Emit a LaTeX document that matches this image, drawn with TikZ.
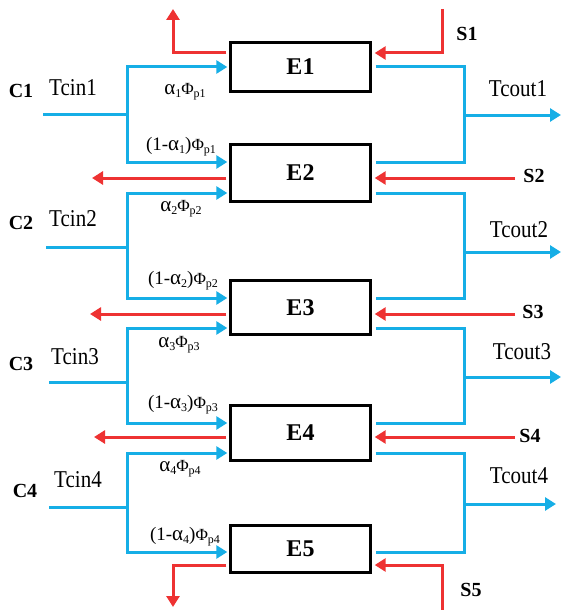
\documentclass[tikz,border=0pt]{standalone}
\usepackage{fontspec}
\setmainfont{Liberation Serif}
\usetikzlibrary{arrows.meta}
\definecolor{cb}{RGB}{22,174,230}
\definecolor{cr}{RGB}{238,50,50}
\newcommand\mysub[1]{\raisebox{-3pt}{\fontsize{12}{12}\selectfont #1}}
\newcommand\myal{{\fontsize{21}{21}\selectfont α}}
\newcommand\myphi[1]{{\fontsize{17}{17}\selectfont Φ}\mysub{#1}}
\newcommand\mytall[1]{\scalebox{1}[1.15]{#1}}
\begin{document}
\begin{tikzpicture}[x=1pt,y=-1pt,
  bl/.style={draw=cb,line width=3pt},
  rd/.style={draw=cr,line width=3pt},
  tip/.style={-{Triangle[length=11pt,width=13pt]}},
  ebox/.style={draw=black,line width=3pt,minimum width=139.4pt,inner sep=0pt,font=\fontsize{24}{24}\selectfont\bfseries},
  slab/.style={inner sep=0pt,font=\fontsize{20}{20}\selectfont\bfseries},
  clab/.style={inner sep=0pt,font=\fontsize{20}{20}\selectfont\bfseries},
  tlab/.style={inner sep=0pt,font=\fontsize{21}{21}\selectfont},
  flab/.style={inner sep=0pt,font=\fontsize{19}{19}\selectfont}]
\useasboundingbox (0,0) rectangle (563,610);

% boxes
\node[ebox,minimum height=49pt] (E1) at (300.5,67) {E1};
\node[ebox,minimum height=57pt] (E2) at (300.5,173) {E2};
\node[ebox,minimum height=54pt] (E3) at (300.5,307.5) {E3};
\node[ebox,minimum height=55pt] (E4) at (300.5,433) {E4};
\node[ebox,minimum height=47pt] (E5) at (300.5,549) {E5};

% left blue feeds
\coordinate (c1s) at (43,114); \coordinate (c1j) at (127,114);
\draw[bl] (c1s) -- (c1j);
\draw[bl,tip] (c1j) |- ([xshift=-2pt]E1.west);
\draw[bl,tip] (c1j) |- ([xshift=-2pt,yshift=11pt]E2.west);

\coordinate (c2s) at (46,247); \coordinate (c2j) at (127,247);
\draw[bl] (c2s) -- (c2j);
\draw[bl,tip] (c2j) |- ([xshift=-2pt,yshift=-20pt]E2.west);
\draw[bl,tip] (c2j) |- ([xshift=-2pt,yshift=9.5pt]E3.west);

\coordinate (c3s) at (49,382); \coordinate (c3j) at (127,382);
\draw[bl] (c3s) -- (c3j);
\draw[bl,tip] (c3j) |- ([xshift=-2pt,yshift=-20.5pt]E3.west);
\draw[bl,tip] (c3j) |- ([xshift=-2pt,yshift=10pt]E4.west);

\coordinate (c4s) at (49,507); \coordinate (c4j) at (127,507);
\draw[bl] (c4s) -- (c4j);
\draw[bl,tip] (c4j) |- ([xshift=-2pt,yshift=-20pt]E4.west);
\draw[bl,tip] (c4j) |- ([xshift=-2pt,yshift=-3pt]E5.west);

% right blue outputs
\coordinate (o1j) at (464,115); \coordinate (o1t) at (561,115);
\draw[bl] ([xshift=4pt]E1.east) -| (o1j) |- ([xshift=4pt,yshift=11pt]E2.east);
\draw[bl,tip] (o1j) -- (o1t);

\coordinate (o2j) at (464,252); \coordinate (o2t) at (561,252);
\draw[bl] ([xshift=4pt,yshift=-20pt]E2.east) -| (o2j) |- ([xshift=4pt,yshift=9.5pt]E3.east);
\draw[bl,tip] (o2j) -- (o2t);

\coordinate (o3j) at (464,377); \coordinate (o3t) at (561,377);
\draw[bl] ([xshift=4pt,yshift=-20.5pt]E3.east) -| (o3j) |- ([xshift=4pt,yshift=10pt]E4.east);
\draw[bl,tip] (o3j) -- (o3t);

\coordinate (o4j) at (464,504); \coordinate (o4t) at (556,504);
\draw[bl] ([xshift=4pt,yshift=-20pt]E4.east) -| (o4j) |- ([xshift=4pt,yshift=-3pt]E5.east);
\draw[bl,tip] (o4j) -- (o4t);

% red streams
\coordinate (u1) at (173,9);
\draw[rd,tip] ([xshift=-3pt,yshift=14pt]E1.west) -| (u1);
\coordinate (s1) at (442,9);
\draw[rd,tip] (s1) |- ([xshift=3pt,yshift=14pt]E1.east);

\coordinate (l2) at (92,178);
\draw[rd,tip] ([xshift=-3pt,yshift=-5pt]E2.west) -- (l2);
\coordinate (s2) at (515,178);
\draw[rd,tip] (s2) -- ([xshift=3pt,yshift=-5pt]E2.east);

\coordinate (l3) at (90,314);
\draw[rd,tip] ([xshift=-3pt,yshift=-6.5pt]E3.west) -- (l3);
\coordinate (s3) at (515,314);
\draw[rd,tip] (s3) -- ([xshift=3pt,yshift=-6.5pt]E3.east);

\coordinate (l4) at (94,437);
\draw[rd,tip] ([xshift=-3pt,yshift=-4pt]E4.west) -- (l4);
\coordinate (s4) at (515,437);
\draw[rd,tip] (s4) -- ([xshift=3pt,yshift=-4pt]E4.east);

\coordinate (d5) at (173,607);
\draw[rd,tip] ([xshift=-3pt,yshift=-16pt]E5.west) -| (d5);
\coordinate (s5) at (442,610);
\draw[rd,tip] (s5) |- ([xshift=3pt,yshift=-16pt]E5.east);

% labels
\node[slab] (S1) at (467,34) {S1};
\node[slab] (S2) at (534,176) {S2};
\node[slab] (S3) at (533,312) {S3};
\node[slab] (S4) at (530,436) {S4};
\node[slab] (S5) at (471,590) {S5};

\node[clab] (C1) at (21,91) {C1};
\node[clab] (C2) at (21,223) {C2};
\node[clab] (C3) at (21,364) {C3};
\node[clab] (C4) at (25,491) {C4};

\node[tlab] (Ti1) at (73,88) {\mytall{Tcin1}};
\node[tlab] (Ti2) at (73,219) {\mytall{Tcin2}};
\node[tlab] (Ti3) at (75,357) {\mytall{Tcin3}};
\node[tlab] (Ti4) at (78,480) {\mytall{Tcin4}};

\node[tlab] (To1) at (518,89) {\mytall{Tcout1}};
\node[tlab] (To2) at (519,230) {\mytall{Tcout2}};
\node[tlab] (To3) at (522,352) {\mytall{Tcout3}};
\node[tlab] (To4) at (519,476) {\mytall{Tcout4}};

\node[flab] (f1a) at (185,92) {\myal\mysub{1}\myphi{p1}};
\node[flab] (f1b) at (181,147) {(1-\myal\mysub{1})\myphi{p1}};
\node[flab] (f2a) at (181,209) {\myal\mysub{2}\myphi{p2}};
\node[flab] (f2b) at (183,281) {(1-\myal\mysub{2})\myphi{p2}};
\node[flab] (f3a) at (179,345) {\myal\mysub{3}\myphi{p3}};
\node[flab] (f3b) at (183,405) {(1-\myal\mysub{3})\myphi{p3}};
\node[flab] (f4a) at (180,469) {\myal\mysub{4}\myphi{p4}};
\node[flab] (f4b) at (185,537) {(1-\myal\mysub{4})\myphi{p4}};
\end{tikzpicture}
\end{document}
